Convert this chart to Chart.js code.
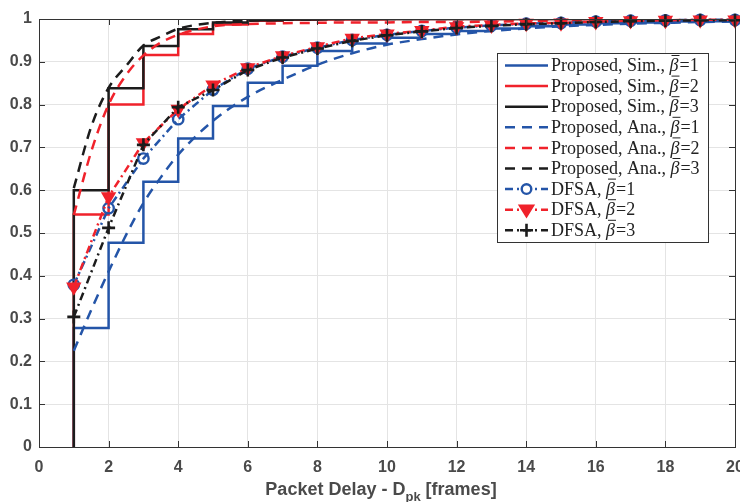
<!DOCTYPE html>
<html lang="en">
<head>
<meta charset="UTF-8">
<title>Packet delay CDF</title>
<script src="https://cdn.jsdelivr.net/npm/chart.js@4.4.0/dist/chart.umd.min.js"></script>
<style>
  html, body { margin: 0; padding: 0; background: #fff; overflow: hidden; }
  canvas { display: block; }
</style>
</head>
<body>
<canvas id="delay-chart" width="760" height="502"></canvas>
<script>
  // x positions
  const simX = [1, 1, 2, 3, 4, 5, 6, 7, 8, 9, 10, 11, 12, 13, 14, 15, 16, 17, 18, 19, 20];
  const anaX = [1, 1.5, 2, 2.5, 3, 3.5, 4, 5, 6, 7, 8, 9, 10, 11, 12, 13, 14, 15, 16, 17, 18, 19, 20];
  const dfsaX = [1, 2, 3, 4, 5, 6, 7, 8, 9, 10, 11, 12, 13, 14, 15, 16, 17, 18, 19, 20];

  // simulation (step curves)
  const simB1 = [0, 0.278, 0.477, 0.62, 0.721, 0.797, 0.851, 0.891, 0.925, 0.943, 0.956, 0.965, 0.972, 0.978, 0.983, 0.987, 0.99, 0.992, 0.994, 0.995, 0.996];
  const simB2 = [0, 0.543, 0.80, 0.916, 0.965, 0.987, 0.996, 0.998, 0.999, 0.999, 1, 1, 1, 1, 1, 1, 1, 1, 1, 1, 1];
  const simB3 = [0, 0.60, 0.838, 0.937, 0.976, 0.992, 0.997, 0.999, 1, 1, 1, 1, 1, 1, 1, 1, 1, 1, 1, 1, 1];

  // analysis (dashed curves)
  const anaB1 = [0.225, 0.32, 0.41, 0.495, 0.57, 0.63, 0.683, 0.762, 0.818, 0.858, 0.893, 0.92, 0.94, 0.953, 0.964, 0.972, 0.978, 0.983, 0.986, 0.989, 0.991, 0.993, 0.994];
  const anaB2 = [0.542, 0.69, 0.80, 0.869, 0.915, 0.945, 0.963, 0.983, 0.988, 0.990, 0.991, 0.992, 0.992, 0.993, 0.993, 0.994, 0.995, 0.996, 0.997, 0.998, 0.998, 0.999, 0.999];
  const anaB3 = [0.605, 0.748, 0.839, 0.89, 0.938, 0.959, 0.977, 0.991, 0.996, 0.998, 0.999, 1, 1, 1, 1, 1, 1, 1, 1, 1, 1, 1, 1];

  // DFSA (markers)
  const dfsaB1 = [0.379, 0.558, 0.674, 0.766, 0.835, 0.884, 0.912, 0.933, 0.951, 0.963, 0.972, 0.98, 0.985, 0.989, 0.991, 0.994, 0.996, 0.997, 0.998, 0.998];
  const dfsaB2 = [0.374, 0.585, 0.711, 0.789, 0.846, 0.886, 0.914, 0.935, 0.955, 0.965, 0.973, 0.982, 0.986, 0.99, 0.991, 0.994, 0.996, 0.997, 0.998, 0.998];
  const dfsaB3 = [0.304, 0.512, 0.706, 0.794, 0.834, 0.881, 0.91, 0.931, 0.949, 0.962, 0.971, 0.979, 0.984, 0.988, 0.99, 0.993, 0.995, 0.996, 0.997, 0.997];

  const seriesLabels = [
    'Proposed, Sim., β\u0304=1', 'Proposed, Sim., β\u0304=2', 'Proposed, Sim., β\u0304=3',
    'Proposed, Ana., β\u0304=1', 'Proposed, Ana., β\u0304=2', 'Proposed, Ana., β\u0304=3',
    'DFSA, β\u0304=1', 'DFSA, β\u0304=2', 'DFSA, β\u0304=3'
  ];

  const BLUE = '#2455a8', RED = '#f0222b', BLACK = '#1c1c1c';
  const DASH = [10, 7], DASHDOT = [8, 4, 2, 4];

  const pts = (xs, ys) => xs.map((x, i) => ({ x: x, y: ys[i] }));

  function simSet(label, ys, color) {
    // chart.js 'before' = hold the level, then jump at the next x
    return { label, data: pts(simX, ys), borderColor: color, borderWidth: 2.5,
      stepped: 'before', pointRadius: 0, fill: false };
  }
  function anaSet(label, ys, color) {
    return { label, data: pts(anaX, ys), borderColor: color, borderWidth: 2.5,
      borderDash: DASH, cubicInterpolationMode: 'monotone', pointRadius: 0, fill: false };
  }
  function dfsaSet(label, ys, color, style) {
    const ds = { label, data: pts(dfsaX, ys), borderColor: color, borderWidth: 2.5,
      borderDash: DASHDOT, tension: 0, fill: false, clip: false,
      pointBorderColor: color, pointBorderWidth: 2.4, marker: style };
    if (style === 'circle') {
      ds.pointStyle = 'circle'; ds.pointRadius = 5.2; ds.pointBackgroundColor = 'rgba(0,0,0,0)';
    } else if (style === 'tri') {
      ds.pointStyle = 'triangle'; ds.pointRotation = 180; ds.pointRadius = 6.5; ds.pointBackgroundColor = color;
    } else {
      ds.pointStyle = 'cross'; ds.pointRadius = 6.5; ds.pointBorderWidth = 2.6;
    }
    return ds;
  }

  const datasets = [
    simSet(seriesLabels[0], simB1, BLUE),
    simSet(seriesLabels[1], simB2, RED),
    simSet(seriesLabels[2], simB3, BLACK),
    anaSet(seriesLabels[3], anaB1, BLUE),
    anaSet(seriesLabels[4], anaB2, RED),
    anaSet(seriesLabels[5], anaB3, BLACK),
    dfsaSet(seriesLabels[6], dfsaB1, BLUE, 'circle'),
    dfsaSet(seriesLabels[7], dfsaB2, RED, 'tri'),
    dfsaSet(seriesLabels[8], dfsaB3, BLACK, 'plus')
  ];
  // later series on top, like matlab
  datasets.forEach((d, i) => { d.order = datasets.length - i; });

  // box + inward ticks
  const boxPlugin = {
    id: 'box',
    afterDatasetsDraw(chart) {
      const { ctx, chartArea: a, scales } = chart;
      ctx.save();
      ctx.strokeStyle = '#333';
      ctx.lineWidth = 1;
      ctx.beginPath();
      scales.x.ticks.forEach(t => {
        const px = Math.round(scales.x.getPixelForValue(t.value)) + 0.5;
        ctx.moveTo(px, a.bottom); ctx.lineTo(px, a.bottom - 6);
        ctx.moveTo(px, a.top); ctx.lineTo(px, a.top + 6);
      });
      scales.y.ticks.forEach(t => {
        const py = Math.round(scales.y.getPixelForValue(t.value)) + 0.5;
        ctx.moveTo(a.left, py); ctx.lineTo(a.left + 6, py);
        ctx.moveTo(a.right, py); ctx.lineTo(a.right - 6, py);
      });
      ctx.stroke();
      ctx.strokeRect(Math.round(a.left) + 0.5, Math.round(a.top) + 0.5,
        Math.round(a.right - a.left), Math.round(a.bottom - a.top));
      ctx.restore();
    }
  };

  // x title with subscript
  const xTitlePlugin = {
    id: 'xTitle',
    afterDraw(chart) {
      const ctx = chart.ctx;
      const big = 'bold 18px "Liberation Sans", Arial, sans-serif';
      const small = 'bold 13px "Liberation Sans", Arial, sans-serif';
      const p1 = 'Packet Delay - D', sub = 'pk', p2 = ' [frames]';
      ctx.save();
      ctx.fillStyle = '#4a4a4a';
      ctx.textBaseline = 'alphabetic';
      ctx.font = big; const w1 = ctx.measureText(p1).width, w3 = ctx.measureText(p2).width;
      ctx.font = small; const w2 = ctx.measureText(sub).width;
      let x = 381 - (w1 + w2 + w3) / 2;
      const base = 495;
      ctx.font = big; ctx.fillText(p1, x, base); x += w1;
      ctx.font = small; ctx.fillText(sub, x, base + 6); x += w2;
      ctx.font = big; ctx.fillText(p2, x, base);
      ctx.restore();
    }
  };

  // legend box drawn from the datasets
  const legendPlugin = {
    id: 'boxLegend',
    afterDraw(chart) {
      const ctx = chart.ctx;
      const L = 497, T = 53, W = 211, H = 189;
      const rowY0 = 65.5, rowH = 20.6;
      ctx.save();
      ctx.fillStyle = '#fff';
      ctx.fillRect(L, T, W, H);
      ctx.strokeStyle = '#333'; ctx.lineWidth = 1;
      ctx.strokeRect(L + 0.5, T + 0.5, W, H);
      chart.data.datasets.forEach((ds, i) => {
        const y = rowY0 + i * rowH;
        ctx.strokeStyle = ds.borderColor;
        ctx.lineWidth = ds.borderWidth;
        ctx.setLineDash(ds.borderDash || []);
        ctx.beginPath(); ctx.moveTo(505, y); ctx.lineTo(548, y); ctx.stroke();
        ctx.setLineDash([]);
        if (ds.marker) {
          const cx = 526.5;
          ctx.lineWidth = 2.4;
          ctx.strokeStyle = ds.borderColor; ctx.fillStyle = ds.borderColor;
          ctx.beginPath();
          if (ds.marker === 'circle') {
            ctx.fillStyle = '#fff';
            ctx.arc(cx, y, 4.8, 0, Math.PI * 2); ctx.fill(); ctx.stroke();
          } else if (ds.marker === 'tri') {
            ctx.moveTo(cx - 6.5, y - 4); ctx.lineTo(cx + 6.5, y - 4); ctx.lineTo(cx, y + 6.5); ctx.closePath();
            ctx.fill(); ctx.stroke();
          } else {
            ctx.lineWidth = 2.6;
            ctx.moveTo(cx - 6.5, y); ctx.lineTo(cx + 6.5, y); ctx.moveTo(cx, y - 6.5); ctx.lineTo(cx, y + 6.5); ctx.stroke();
          }
        }
        // label: roman text, italic beta with bar
        const parts = ds.label.split('β\u0304');
        const rom = '18px "Liberation Serif", "DejaVu Serif", serif';
        const ita = 'italic 18px "Liberation Serif", "DejaVu Serif", serif';
        ctx.fillStyle = '#222';
        ctx.textBaseline = 'middle';
        let x = 551;
        ctx.font = rom; ctx.fillText(parts[0], x, y + 1); x += ctx.measureText(parts[0]).width;
        ctx.font = ita; ctx.fillText('β', x, y + 1);
        const bw = ctx.measureText('β').width;
        ctx.strokeStyle = '#222'; ctx.lineWidth = 1;
        ctx.beginPath(); ctx.moveTo(x + 2, y - 10); ctx.lineTo(x + bw + 1, y - 10); ctx.stroke();
        x += bw + 1;
        ctx.font = rom; ctx.fillText(parts[1], x, y + 1);
      });
      ctx.restore();
    }
  };

  const tickFont = { family: '"Liberation Sans", Arial, sans-serif', size: 16, weight: 'bold' };

  new Chart(document.getElementById('delay-chart').getContext('2d'), {
    type: 'line',
    data: { datasets: datasets },
    options: {
      responsive: false,
      animation: false,
      devicePixelRatio: 1,
      layout: { padding: { top: 19, right: 25, left: 0, bottom: 0 } },
      plugins: { legend: { display: false }, tooltip: { enabled: false } },
      scales: {
        x: {
          type: 'linear', min: 0, max: 20,
          ticks: { stepSize: 2, font: tickFont, color: '#4a4a4a', padding: 11, maxRotation: 0 },
          grid: { color: '#e4e4e4', drawTicks: false },
          border: { display: false },
          afterFit(s) { s.height = 55; }
        },
        y: {
          min: 0, max: 1,
          ticks: { stepSize: 0.1, font: tickFont, color: '#4a4a4a', padding: 7,
            callback: v => (v === 0 || v === 1) ? String(v) : v.toFixed(1) },
          grid: { color: '#e4e4e4', drawTicks: false },
          border: { display: false },
          afterFit(s) { s.width = 39; }
        }
      }
    },
    plugins: [boxPlugin, xTitlePlugin, legendPlugin]
  });
</script>
</body>
</html>
